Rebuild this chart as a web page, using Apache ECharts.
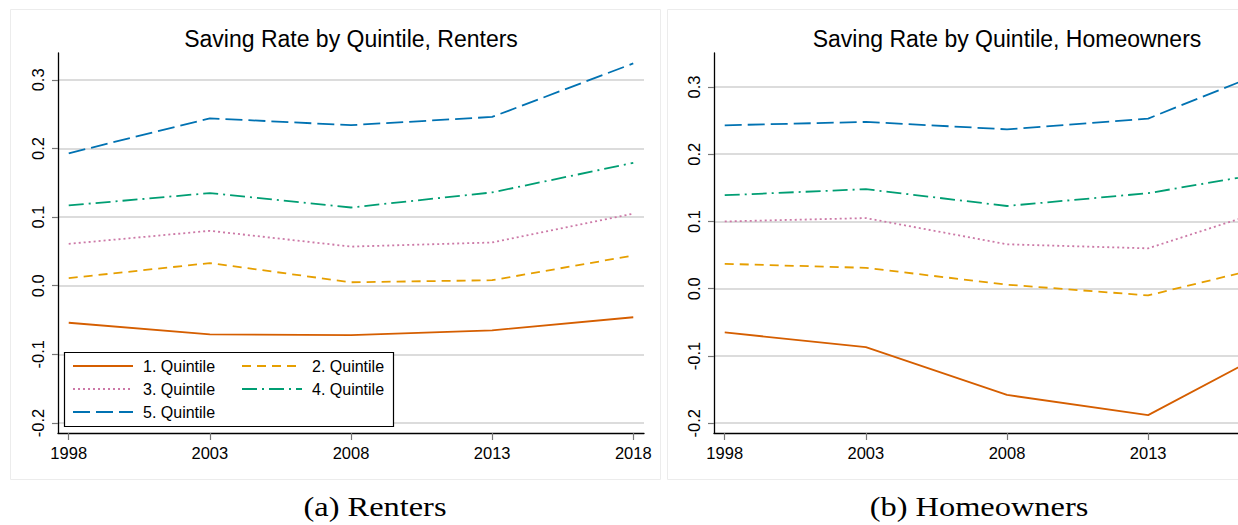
<!DOCTYPE html>
<html>
<head>
<meta charset="utf-8">
<script src="https://cdn.jsdelivr.net/npm/echarts@6/dist/echarts.min.js"></script>
<style>
	html, body { margin: 0; padding: 0; overflow: hidden; background: #fff; }
	#chart { width: 1320px; height: 525px; }
</style>
</head>
<body>
<div id="chart"></div>
<script>
const years = [1998, 2003, 2008, 2013, 2018];
const yTicks = [-0.2, -0.1, 0, 0.1, 0.2, 0.3];
const quintiles = ["1. Quintile", "2. Quintile", "3. Quintile", "4. Quintile", "5. Quintile"];

// Renters
const rentersQ1 = [-0.054, -0.071, -0.072, -0.065, -0.046];
const rentersQ2 = [0.011, 0.033, 0.005, 0.008, 0.044];
const rentersQ3 = [0.061, 0.080, 0.057, 0.063, 0.105];
const rentersQ4 = [0.117, 0.135, 0.114, 0.136, 0.179];
const rentersQ5 = [0.193, 0.244, 0.234, 0.246, 0.324];

// Homeowners (the 2018 column is cut off by the right edge of the figure)
const ownersQ1 = [-0.065, -0.087, -0.158, -0.188, -0.077];
const ownersQ2 = [0.037, 0.031, 0.006, -0.010, 0.041];
const ownersQ3 = [0.100, 0.105, 0.066, 0.060, 0.128];
const ownersQ4 = [0.139, 0.148, 0.123, 0.142, 0.178];
const ownersQ5 = [0.243, 0.248, 0.237, 0.253, 0.337];

const colors = ["#D55E00", "#E69F00", "#CC79A7", "#009E73", "#0072B2"];
const dashes = ["solid", [9, 6], [2, 3], [15, 5, 2, 5], [17, 6]];

const sans = "Liberation Sans";
const serif = "Liberation Serif";

function toPairs(values) {
	return years.map((year, i) => [year, values[i]]);
}

function makeXAxis(gridIndex, labelYears) {
	return {
		type: "value",
		gridIndex: gridIndex,
		min: 1997.62,
		max: 2018.38,
		z: 3,
		axisLine: { onZero: false, lineStyle: { color: "#000", width: 1.3 } },
		axisTick: { length: 7, customValues: years, lineStyle: { color: "#777", width: 1.2 } },
		axisLabel: {
			customValues: labelYears,
			margin: 11,
			color: "#000",
			fontSize: 16.5,
			fontFamily: sans,
			formatter: (v) => String(v),
		},
		splitLine: { show: false },
	};
}

function makeYAxis(gridIndex, min, max) {
	return {
		type: "value",
		gridIndex: gridIndex,
		min: min,
		max: max,
		z: 3,
		axisLine: { show: true, onZero: false, lineStyle: { color: "#000", width: 1.3 } },
		axisTick: { show: true, length: 6, customValues: yTicks, lineStyle: { color: "#777", width: 1.2 } },
		axisLabel: {
			customValues: yTicks,
			rotate: 90,
			margin: 12,
			color: "#000",
			fontSize: 16.5,
			fontFamily: sans,
			formatter: (v) => v.toFixed(1),
		},
		splitLine: { show: false },
	};
}

function makeSeries(seriesData, gridIndex) {
	return seriesData.map((values, i) => {
		const s = {
			name: quintiles[i],
			type: "line",
			xAxisIndex: gridIndex,
			yAxisIndex: gridIndex,
			data: toPairs(values),
			symbol: "none",
			z: 2,
			lineStyle: { color: colors[i], width: 1.8, type: dashes[i] },
			itemStyle: { color: colors[i] },
			animation: false,
		};
		// gridlines at the y ticks, drawn under the data lines
		if (i === 0) {
			s.markLine = {
				silent: true,
				symbol: ["none", "none"],
				z: 1,
				label: { show: false },
				lineStyle: { color: "#dcdcdc", width: 2, type: "solid" },
				data: yTicks.map((v) => ({ yAxis: v })),
				animation: false,
			};
		}
		return s;
	});
}

const legendCommon = {
	orient: "vertical",
	top: 357,
	padding: 0,
	itemWidth: 60,
	itemHeight: 18,
	itemGap: 5,
	selectedMode: false,
	z: 20,
	itemStyle: { opacity: 0 },
	textStyle: {
		fontSize: 16,
		fontFamily: sans,
		color: "#000",
		lineHeight: 18,
		padding: [0, 0, 0, 5],
	},
};

const chart = echarts.init(document.getElementById("chart"), null, { renderer: "svg" });

const option = {
	backgroundColor: "#fff",
	animation: false,
	grid: [
		{ left: 58, right: 676, top: 53, bottom: 92 },
		{ left: 714, right: 20, top: 53, bottom: 92 },
	],
	xAxis: [makeXAxis(0, years), makeXAxis(1, years.slice(0, 4))],
	yAxis: [makeYAxis(0, -0.2147, 0.3392), makeYAxis(1, -0.2146, 0.3505)],
	legend: [
		Object.assign({}, legendCommon, {
			left: 72,
			data: [quintiles[0], quintiles[2], quintiles[4]],
		}),
		Object.assign({}, legendCommon, {
			left: 241,
			data: [quintiles[1], quintiles[3]],
		}),
	],
	graphic: [
		// panel frames
		{
			type: "rect",
			z: 0,
			shape: { x: 10.5, y: 9.5, width: 650, height: 470 },
			style: { fill: "none", stroke: "#ececec", lineWidth: 1 },
		},
		{
			type: "rect",
			z: 0,
			shape: { x: 667.5, y: 9.5, width: 700, height: 470 },
			style: { fill: "none", stroke: "#ececec", lineWidth: 1 },
		},
		// legend box
		{
			type: "rect",
			z: 10,
			shape: { x: 64.5, y: 352.5, width: 329, height: 74 },
			style: { fill: "#fff", stroke: "#000", lineWidth: 1.2 },
		},
		// panel titles
		{
			type: "text",
			z: 10,
			x: 351,
			y: 38.5,
			style: {
				text: "Saving Rate by Quintile, Renters",
				fontSize: 23,
				fontFamily: sans,
				fill: "#000",
				textAlign: "center",
				textVerticalAlign: "middle",
			},
		},
		{
			type: "text",
			z: 10,
			x: 1007,
			y: 38.5,
			style: {
				text: "Saving Rate by Quintile, Homeowners",
				fontSize: 23,
				fontFamily: sans,
				fill: "#000",
				textAlign: "center",
				textVerticalAlign: "middle",
			},
		},
		// sub-captions
		{
			type: "text",
			z: 10,
			x: 375,
			y: 506,
			scaleX: 1.2,
			style: {
				text: "(a) Renters",
				fontSize: 27,
				fontFamily: serif,
				fill: "#000",
				textAlign: "center",
				textVerticalAlign: "middle",
			},
		},
		{
			type: "text",
			z: 10,
			x: 979,
			y: 506,
			scaleX: 1.2,
			style: {
				text: "(b) Homeowners",
				fontSize: 27,
				fontFamily: serif,
				fill: "#000",
				textAlign: "center",
				textVerticalAlign: "middle",
			},
		},
	],
	series: [
		...makeSeries([rentersQ1, rentersQ2, rentersQ3, rentersQ4, rentersQ5], 0),
		...makeSeries([ownersQ1, ownersQ2, ownersQ3, ownersQ4, ownersQ5], 1),
	],
};

chart.setOption(option);
</script>
</body>
</html>
